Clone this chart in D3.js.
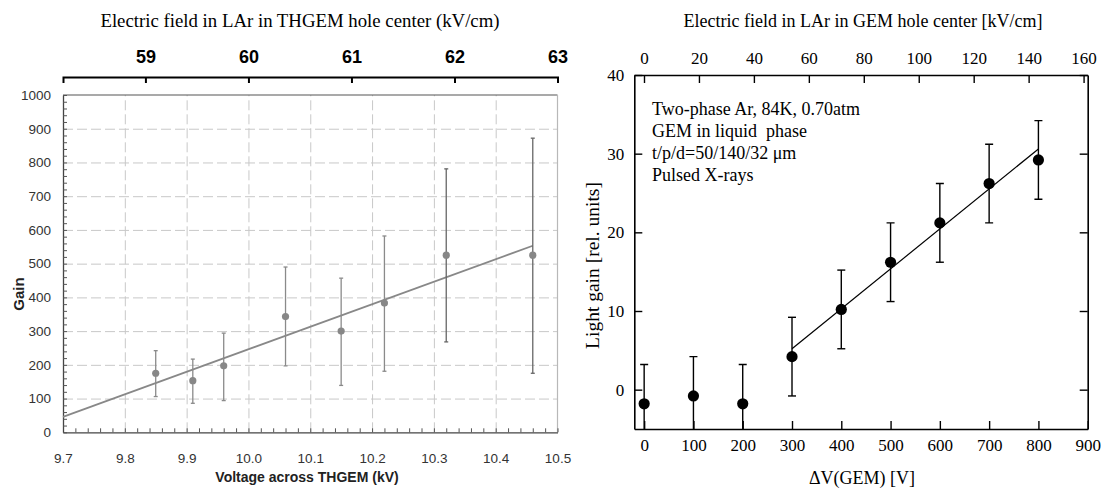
<!DOCTYPE html>
<html>
<head>
<meta charset="utf-8">
<title>THGEM gain and GEM light gain</title>
<script src="https://cdnjs.cloudflare.com/ajax/libs/d3/7.8.5/d3.min.js"></script>
<style>
body { margin: 0; background: #fff; }
.lft text { font-family: "Liberation Sans", Arial, sans-serif; }
.rgt text { font-family: "Liberation Serif", "Times New Roman", serif; }
.grid line { stroke: #c8c8c8; stroke-dasharray: 10,4; }
.grid path { display: none; }
</style>
</head>
<body>
<svg id="vis" width="1102" height="488"></svg>
<script>
// left panel: THGEM gain vs voltage
var thgemVoltage   = [9.85, 9.91, 9.96, 10.06, 10.15, 10.22, 10.32, 10.46];
var thgemGain      = [175, 153, 197, 343, 300, 383, 525, 525];
var thgemGainLow   = [106, 86, 94, 197, 139, 181, 268, 175];
var thgemGainHigh  = [242, 217, 294, 490, 457, 582, 781, 872];
var thgemFitV      = [9.7, 10.46];
var thgemFitGain   = [46, 553];
var thgemFieldTicks = [59, 60, 61, 62, 63];

// right panel: GEM light gain vs dV
var gemVoltage   = [0, 100, 200, 300, 400, 500, 600, 700, 800];
var gemLightGain = [-1.8, -0.8, -1.8, 4.2, 10.2, 16.2, 21.2, 26.2, 29.2];
var gemError     = [5, 5, 5, 5, 5, 5, 5, 5, 5];
var gemFitV      = [300, 800];
var gemFitGain   = [5.2, 30.6];
var gemFieldTicks = [0, 20, 40, 60, 80, 100, 120, 140, 160];
var gemNotes = ["Two-phase Ar, 84K, 0.70atm", "GEM in liquid  phase",
                "t/p/d=50/140/32 \u03bcm", "Pulsed X-rays"];

var svg = d3.select("#vis");

// ---------- left ----------
var L = svg.append("g").attr("class", "lft");
var lx = d3.scaleLinear().domain([9.7, 10.5]).range([63, 557.5]);
var lxTop = d3.scaleLinear().domain([58.2, 63]).range([63, 557.5]);
var ly = d3.scaleLinear().domain([0, 1000]).range([432.3, 95]);

L.append("g").attr("class", "grid")
  .attr("transform", "translate(0,432.3)")
  .call(d3.axisBottom(lx).tickValues(d3.range(9.8, 10.45, 0.1)).tickSize(-337.3).tickFormat(""));
L.append("g").attr("class", "grid")
  .attr("transform", "translate(63,0)")
  .call(d3.axisLeft(ly).tickValues(d3.range(100, 950, 100)).tickSize(-494.5).tickFormat(""));

// frame: top dark, right light
L.append("line").attr("x1", 63).attr("x2", 557.5).attr("y1", 95).attr("y2", 95)
  .attr("stroke", "#555").attr("stroke-width", 1.2);
L.append("line").attr("x1", 557.5).attr("x2", 557.5).attr("y1", 95).attr("y2", 432.3)
  .attr("stroke", "#b8b8b8").attr("stroke-width", 1.2);

// minor ticks
var lxMinor = L.append("g").attr("transform", "translate(0,432.3)")
  .call(d3.axisBottom(lx).tickValues(d3.range(9.7, 10.51, 0.02)).tickSizeInner(-4).tickSizeOuter(0).tickFormat(""));
var lyMinor = L.append("g").attr("transform", "translate(63,0)")
  .call(d3.axisLeft(ly).tickValues(d3.range(0, 1001, 20)).tickSizeInner(-4).tickSizeOuter(0).tickFormat(""));
[lxMinor, lyMinor].forEach(function(g) {
  g.select(".domain").attr("stroke", "#444").attr("stroke-width", 1.3);
  g.selectAll(".tick line").attr("stroke", "#555");
});

// labels
var lxLab = L.append("g").attr("transform", "translate(0,432.3)")
  .call(d3.axisBottom(lx).tickValues(d3.range(9.7, 10.51, 0.1)).tickSize(0).tickPadding(21).tickFormat(d3.format(".1f")));
var lyLab = L.append("g").attr("transform", "translate(63,0)")
  .call(d3.axisLeft(ly).tickValues(d3.range(0, 1001, 100)).tickSize(0).tickPadding(12).tickFormat(d3.format("d")));
[lxLab, lyLab].forEach(function(g) {
  g.select(".domain").remove();
  g.selectAll("text").attr("font-size", 13.5).attr("fill", "#333");
});

// top field axis
var lTop = L.append("g").attr("transform", "translate(0,77)")
  .call(d3.axisTop(lxTop).tickValues(thgemFieldTicks).tickSizeInner(-6).tickSizeOuter(-6).tickPadding(14).tickFormat(d3.format("d")));
lTop.select(".domain").attr("stroke", "#000").attr("stroke-width", 2);
lTop.selectAll(".tick line").attr("stroke", "#000").attr("stroke-width", 2);
lTop.selectAll("text").attr("font-size", 18).attr("font-weight", "bold").attr("fill", "#000");

L.append("text").attr("x", 300).attr("y", 27).attr("text-anchor", "middle")
  .style("font-family", "'Liberation Serif', serif").attr("font-size", 18.8)
  .text("Electric field in LAr in THGEM hole center (kV/cm)");
L.append("text").attr("x", 307).attr("y", 482).attr("text-anchor", "middle")
  .attr("font-size", 14).attr("font-weight", "bold").attr("fill", "#222")
  .text("Voltage across THGEM (kV)");
L.append("text").attr("transform", "translate(24,294) rotate(-90)").attr("text-anchor", "middle")
  .attr("font-size", 15).attr("font-weight", "bold").attr("fill", "#222").text("Gain");

// fit line
L.append("line")
  .attr("x1", lx(thgemFitV[0])).attr("y1", ly(thgemFitGain[0]))
  .attr("x2", lx(thgemFitV[1])).attr("y2", ly(thgemFitGain[1]))
  .attr("stroke", "#888").attr("stroke-width", 1.8);

// error bars + points
var lPts = L.selectAll(".lpt").data(thgemVoltage).enter().append("g").attr("class", "lpt");
lPts.append("line")
  .attr("x1", d => lx(d)).attr("x2", d => lx(d))
  .attr("y1", (d, i) => ly(thgemGainLow[i])).attr("y2", (d, i) => ly(thgemGainHigh[i]))
  .attr("stroke", (d, i) => i >= 6 ? "#666" : "#8a8a8a").attr("stroke-width", 1.3);
[thgemGainLow, thgemGainHigh].forEach(function(arr) {
  lPts.append("line")
    .attr("x1", d => lx(d) - 2).attr("x2", d => lx(d) + 2)
    .attr("y1", (d, i) => ly(arr[i])).attr("y2", (d, i) => ly(arr[i]))
    .attr("stroke", (d, i) => i >= 6 ? "#666" : "#8a8a8a").attr("stroke-width", 1.3);
});
lPts.append("circle")
  .attr("cx", d => lx(d)).attr("cy", (d, i) => ly(thgemGain[i]))
  .attr("r", 3.6).attr("fill", "#878787");

// ---------- right ----------
var R = svg.append("g").attr("class", "rgt");
var rx = d3.scaleLinear().domain([-20, 900]).range([634.3, 1087.7]);
var rxTop = d3.scaleLinear().domain([-3.53, 161.5]).range([634.3, 1087.7]);
var ry = d3.scaleLinear().domain([-5, 40]).range([429, 75]);

R.append("defs").append("clipPath").attr("id", "rclip")
  .append("rect").attr("x", 634.3).attr("y", 75).attr("width", 453.4).attr("height", 354);

function styleR(g) {
  g.select(".domain").attr("stroke", "#000").attr("stroke-width", 1.6);
  g.selectAll(".tick line").attr("stroke", "#000").attr("stroke-width", 1.4);
  g.selectAll("text").attr("font-size", 17).attr("fill", "#000");
}
styleR(R.append("g").attr("transform", "translate(0,429)")
  .call(d3.axisBottom(rx).tickValues(gemVoltage.concat([900])).tickSizeInner(-8).tickSizeOuter(0).tickPadding(10)));
styleR(R.append("g").attr("transform", "translate(0,75)")
  .call(d3.axisTop(rxTop).tickValues(gemFieldTicks).tickSizeInner(-8).tickSizeOuter(0).tickPadding(11)));
styleR(R.append("g").attr("transform", "translate(634.3,0)")
  .call(d3.axisLeft(ry).tickValues([0, 10, 20, 30, 40]).tickSizeInner(-8).tickSizeOuter(0).tickPadding(10)));
styleR(R.append("g").attr("transform", "translate(1087.7,0)")
  .call(d3.axisRight(ry).tickValues([0, 10, 20, 30, 40]).tickSizeInner(-8).tickSizeOuter(0).tickFormat("")));

R.append("text").attr("x", 863).attr("y", 27).attr("text-anchor", "middle")
  .attr("font-size", 18).text("Electric field in LAr in GEM hole center [kV/cm]");
R.append("text").attr("x", 862).attr("y", 484).attr("text-anchor", "middle")
  .attr("font-size", 18).text("\u0394V(GEM) [V]");
R.append("text").attr("transform", "translate(599,265.5) rotate(-90)").attr("text-anchor", "middle")
  .attr("font-size", 19.5).text("Light gain [rel. units]");

R.selectAll(".note").data(gemNotes).enter().append("text")
  .attr("x", 652).attr("y", (d, i) => 115 + i * 22)
  .attr("font-size", 18).style("white-space", "pre").text(d => d);

R.append("line")
  .attr("x1", rx(gemFitV[0])).attr("y1", ry(gemFitGain[0]))
  .attr("x2", rx(gemFitV[1])).attr("y2", ry(gemFitGain[1]))
  .attr("stroke", "#000").attr("stroke-width", 1.2);

var rPts = R.append("g").attr("clip-path", "url(#rclip)")
  .selectAll(".rpt").data(gemVoltage).enter().append("g").attr("class", "rpt");
rPts.append("line")
  .attr("x1", d => rx(d)).attr("x2", d => rx(d))
  .attr("y1", (d, i) => ry(gemLightGain[i] - gemError[i])).attr("y2", (d, i) => ry(gemLightGain[i] + gemError[i]))
  .attr("stroke", "#000").attr("stroke-width", 1.4);
rPts.append("line")
  .attr("x1", d => rx(d) - 4).attr("x2", d => rx(d) + 4)
  .attr("y1", (d, i) => ry(gemLightGain[i] + gemError[i])).attr("y2", (d, i) => ry(gemLightGain[i] + gemError[i]))
  .attr("stroke", "#000").attr("stroke-width", 1.4);
rPts.append("line")
  .attr("x1", d => rx(d) - 4).attr("x2", d => rx(d) + 4)
  .attr("y1", (d, i) => ry(gemLightGain[i] - gemError[i])).attr("y2", (d, i) => ry(gemLightGain[i] - gemError[i]))
  .attr("stroke", "#000").attr("stroke-width", 1.4);
rPts.append("circle")
  .attr("cx", d => rx(d)).attr("cy", (d, i) => ry(gemLightGain[i]))
  .attr("r", 5.6).attr("fill", "#000");
</script>
</body>
</html>
